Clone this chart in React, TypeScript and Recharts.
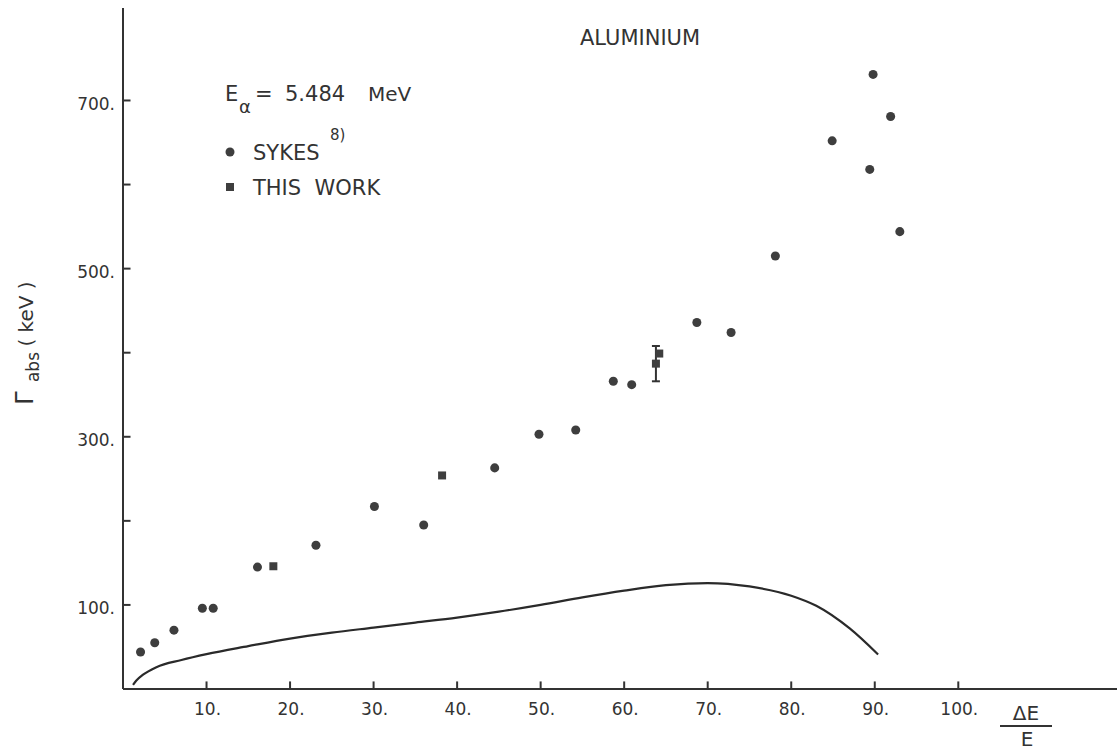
import React from "react";
import { ComposedChart, Line, Scatter, XAxis, YAxis, ErrorBar, ReferenceLine } from "recharts";

// Sykes data (circles)
const sykesX = [2.1, 3.8, 6.1, 9.5, 10.8, 16.1, 23.1, 30.1, 36.0, 44.5, 49.8, 54.2, 58.7, 60.9, 68.7, 72.8, 78.1, 84.9, 89.4, 89.8, 91.9, 93.0];
const sykesY = [44, 55, 70, 96, 96, 145, 171, 217, 195, 263, 303, 308, 366, 362, 436, 424, 515, 652, 618, 731, 681, 544];

// this work (squares)
const workX = [18.0, 38.2, 64.2];
const workY = [146, 254, 399];
const workErrX = [63.8];
const workErrY = [387];
const workErr = [21];

// calculated curve
const curveX = [1.2, 1.6, 2.4, 4, 7, 10, 15, 20, 25, 30, 35, 40, 45, 50, 55, 60, 65, 70, 75, 80, 83, 87, 90.4];
const curveY = [5, 10, 17, 26, 34.5, 41.5, 51, 60, 67, 73, 79, 85, 92, 100, 109, 117, 123.5, 126, 122, 111, 99, 72, 41];

const xTicks = [10, 20, 30, 40, 50, 60, 70, 80, 90, 100];
const yTicks = [100, 200, 300, 400, 500, 600, 700];
const yLabelled = [100, 300, 500, 700];

const sykes = sykesX.map((x, i) => ({ x, y: sykesY[i] }));
const work = workX.map((x, i) => ({ x, y: workY[i] }));
const workWithErr = workErrX.map((x, i) => ({ x, y: workErrY[i], err: workErr[i] }));
const curve = curveX.map((x, i) => ({ x, y: curveY[i] }));

const INK = "#333";
const DOT = "#3e3e3e";
const FONT = "'DejaVu Sans', sans-serif";

const X_MAX = 119;
const Y_MAX = 810;
// inward tick length, in data units (about 7-8px)
const X_TICK_LEN = 9;
const Y_TICK_LEN = 0.9;

const tickStyle = { fontSize: 17, fill: INK, fontFamily: FONT };

export default function App() {
  return (
    <div style={{ position: "absolute", left: 0, top: 0, background: "#fff" }}>
      <ComposedChart width={1117} height={752} margin={{ top: 8, right: 0, bottom: 0, left: 0 }}>
        <XAxis
          type="number"
          dataKey="x"
          domain={[0, X_MAX]}
          ticks={xTicks}
          height={63}
          tickLine={false}
          tickSize={6}
          tickMargin={8}
          tick={{ ...tickStyle, dx: 1 }}
          tickFormatter={(v: number) => v + "."}
          axisLine={{ stroke: INK, strokeWidth: 2 }}
          allowDataOverflow
        />
        <YAxis
          type="number"
          dataKey="y"
          domain={[0, Y_MAX]}
          ticks={yTicks}
          width={123}
          tickLine={false}
          tickSize={6}
          tickMargin={2}
          tick={{ ...tickStyle, dy: 3 }}
          tickFormatter={(v: number) => (yLabelled.includes(v) ? v + "." : "")}
          axisLine={{ stroke: INK, strokeWidth: 2 }}
          allowDataOverflow
        />

        {xTicks.map((v) => (
          <ReferenceLine
            key={"xt" + v}
            segment={[{ x: v, y: 0 }, { x: v, y: X_TICK_LEN }]}
            stroke={INK}
            strokeWidth={2}
          />
        ))}
        {yTicks.map((v) => (
          <ReferenceLine
            key={"yt" + v}
            segment={[{ x: 0, y: v }, { x: Y_TICK_LEN, y: v }]}
            stroke={INK}
            strokeWidth={2}
          />
        ))}

        <Line
          data={curve}
          dataKey="y"
          type="monotone"
          stroke="#2a2a2a"
          strokeWidth={2.2}
          dot={false}
          isAnimationActive={false}
        />
        <Scatter data={sykes} dataKey="y" shape="circle" fill={DOT} isAnimationActive={false} />
        <Scatter data={work} dataKey="y" shape="square" fill={DOT} isAnimationActive={false} />
        <Scatter data={workWithErr} dataKey="y" shape="square" fill={DOT} isAnimationActive={false}>
          <ErrorBar dataKey="err" direction="y" width={4} stroke={INK} strokeWidth={2} />
        </Scatter>

        {/* title */}
        <text x={580} y={45} fontSize={21} fill={INK} fontFamily={FONT}>ALUMINIUM</text>

        {/* energy note */}
        <text x={225} y={101} fontSize={21} fill={INK} fontFamily={FONT}>E</text>
        <text x={239} y={113} fontSize={18} fill={INK} fontFamily={FONT}>α</text>
        <text x={255} y={101} fontSize={21} fill={INK} fontFamily={FONT}>=</text>
        <text x={285} y={101} fontSize={21} fill={INK} fontFamily={FONT}>5.484</text>
        <text x={368} y={101} fontSize={20} fill={INK} fontFamily={FONT}>MeV</text>

        {/* legend */}
        <circle cx={230} cy={152} r={4.5} fill={DOT} />
        <text x={253} y={160} fontSize={21} fill={INK} fontFamily={FONT}>SYKES</text>
        <text x={330} y={140} fontSize={15} fill={INK} fontFamily={FONT}>8)</text>
        <rect x={226} y={183} width={8} height={8} fill={DOT} />
        <text x={253} y={195} fontSize={21} fill={INK} fontFamily={FONT} style={{ whiteSpace: "pre" }}>THIS  WORK</text>

        {/* y axis label */}
        <text x={33} y={398} transform="rotate(-90 33 398)" textAnchor="middle" fontSize={24} fill={INK} fontFamily={FONT}>Γ</text>
        <text x={39} y={367} transform="rotate(-90 39 367)" textAnchor="middle" fontSize={17} fill={INK} fontFamily={FONT}>abs</text>
        <text x={33} y={314} transform="rotate(-90 33 314)" textAnchor="middle" fontSize={20} fill={INK} fontFamily={FONT} style={{ whiteSpace: "pre" }}>( keV )</text>

        {/* x axis label */}
        <text x={1026} y={720} textAnchor="middle" fontSize={20} fill={INK} fontFamily={FONT}>ΔE</text>
        <line x1={1000} y1={726} x2={1052} y2={726} stroke={INK} strokeWidth={2} />
        <text x={1027} y={746} textAnchor="middle" fontSize={20} fill={INK} fontFamily={FONT}>E</text>
      </ComposedChart>
    </div>
  );
}
